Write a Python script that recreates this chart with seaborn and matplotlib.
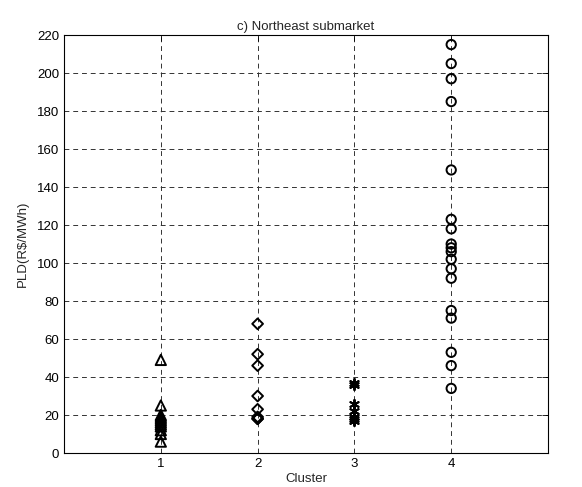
import matplotlib
matplotlib.use("Agg")
import matplotlib.pyplot as plt
import seaborn as sns
import pandas as pd

sns.set_theme(style="white")
plt.rcParams['font.family'] = ['Liberation Sans', 'DejaVu Sans']

cluster1 = [49, 25, 20, 19, 18, 17, 16, 15, 14, 12, 10, 6]
cluster2 = [68, 52, 46, 30, 23, 19, 18, 18]
cluster3 = [37, 36, 26, 22, 19, 18, 17]
cluster4 = [215, 205, 197, 185, 149, 123, 118, 110, 108, 106, 102, 97, 92, 75, 71, 53, 46, 34]
xticks = [1, 2, 3, 4]
yticks = list(range(0, 221, 20))

fig = plt.figure(figsize=(5.82, 4.87), dpi=100)
ax = fig.add_axes([0.110, 0.0698, 0.8316, 0.8582])

groups = [(1, cluster1, '^', 55), (2, cluster2, 'D', 30), (3, cluster3, (6, 2, 0), 45), (4, cluster4, 'o', 45)]
for c, vals, m, sz in groups:
    df = pd.DataFrame({'x': [c] * len(vals), 'y': vals})
    if m == (6, 2, 0):
        sns.scatterplot(data=df, x='x', y='y', marker=m, s=sz, color='black',
                        linewidth=1.4, ax=ax, zorder=3)
    else:
        sns.scatterplot(data=df, x='x', y='y', marker=m, s=sz,
                        facecolors='none', edgecolor='black', linewidth=1.4, ax=ax, zorder=3)

ax.set_xlim(0, 5)
ax.set_ylim(0, 220)
ax.set_xticks(xticks)
ax.set_yticks(yticks)
ax.grid(True, color='#333333', linestyle=(0, (5, 4)), linewidth=0.7)
ax.tick_params(direction='in', top=True, right=True, length=4, labelsize=9.5, colors='black', width=0.6)
for sp in ax.spines.values():
    sp.set_color('black')
    sp.set_linewidth(0.8)
ax.set_xlabel('Cluster', fontsize=9.5, labelpad=2)
ax.set_ylabel('PLD(R$/MWh)', fontsize=9.5, labelpad=6)
ax.set_title('c) Northeast submarket', fontsize=9.5, pad=4)

fig.savefig('out.png', dpi=100)
